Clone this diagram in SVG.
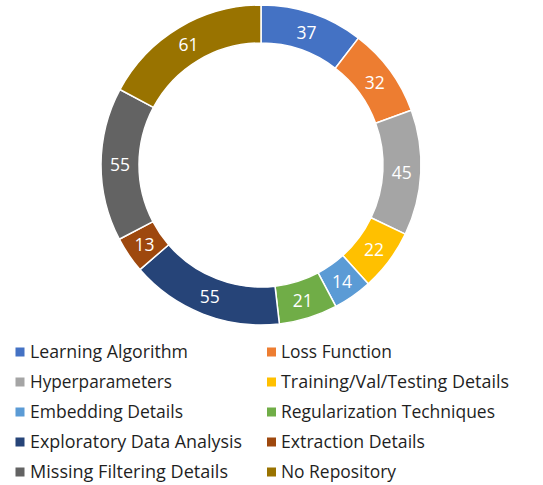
<svg xmlns="http://www.w3.org/2000/svg" width="543" height="485" viewBox="0 0 543 485">
<style>
.seg{stroke:#fff;stroke-width:1.5;stroke-linejoin:round}
.lbl{font-family:"Open Sans","Liberation Sans",sans-serif;font-size:17.5px;fill:#fff;text-anchor:middle;dominant-baseline:central}
.lg{font-family:"Open Sans","Liberation Sans",sans-serif;font-size:17.5px;fill:#1f1f1f}
</style>
<rect width="543" height="485" fill="#fff"/>
<g id="ring">
<g id="s-learning"><path class="seg" fill="#4472C4" d="M261,5 A160,160 0 0 1 358.44,38.09 L335.30,68.23 A122,122 0 0 0 261,43 Z"/><text class="lbl" x="306.4" y="31.5">37</text></g>
<g id="s-loss"><path class="seg" fill="#ED7D31" d="M358.44,38.09 A160,160 0 0 1 411.32,110.21 L375.62,123.22 A122,122 0 0 0 335.30,68.23 Z"/><text class="lbl" x="374.7" y="81.6">32</text></g>
<g id="s-hyper"><path class="seg" fill="#A5A5A5" d="M411.32,110.21 A160,160 0 0 1 405.29,234.15 L371.02,217.73 A122,122 0 0 0 375.62,123.22 Z"/><text class="lbl" x="401.8" y="171.9">45</text></g>
<g id="s-training"><path class="seg" fill="#FFC000" d="M405.29,234.15 A160,160 0 0 1 368.23,283.74 L342.76,255.54 A122,122 0 0 0 371.02,217.73 Z"/><text class="lbl" x="374" y="249.4">22</text></g>
<g id="s-embedding"><path class="seg" fill="#5B9BD5" d="M368.23,283.74 A160,160 0 0 1 335.85,306.41 L318.07,272.82 A122,122 0 0 0 342.76,255.54 Z"/><text class="lbl" x="341.9" y="280.5">14</text></g>
<g id="s-regularization"><path class="seg" fill="#70AD47" d="M335.85,306.41 A160,160 0 0 1 279.37,323.94 L275.01,286.19 A122,122 0 0 0 318.07,272.82 Z"/><text class="lbl" x="302.8" y="299.7">21</text></g>
<g id="s-eda"><path class="seg" fill="#264478" d="M279.37,323.94 A160,160 0 0 1 139.91,269.59 L168.67,244.75 A122,122 0 0 0 275.01,286.19 Z"/><text class="lbl" x="209.8" y="296.4">55</text></g>
<g id="s-extraction"><path class="seg" fill="#9E480E" d="M139.91,269.59 A160,160 0 0 1 119.26,239.22 L152.92,221.60 A122,122 0 0 0 168.67,244.75 Z"/><text class="lbl" x="144.4" y="244.3">13</text></g>
<g id="s-missing"><path class="seg" fill="#636363" d="M119.26,239.22 A160,160 0 0 1 119.93,89.53 L153.43,107.45 A122,122 0 0 0 152.92,221.60 Z"/><text class="lbl" x="120" y="164.4">55</text></g>
<g id="s-norepo"><path class="seg" fill="#997300" d="M119.93,89.53 A160,160 0 0 1 261,5 L261,43 A122,122 0 0 0 153.43,107.45 Z"/><text class="lbl" x="188.5" y="44">61</text></g>
</g>
<g id="legend">
<g id="lg1"><rect x="15.5" y="347.5" width="9" height="9" fill="#4472C4"/><text class="lg" x="30" y="358" textLength="158" lengthAdjust="spacingAndGlyphs">Learning Algorithm</text></g>
<g id="lg2"><rect x="267" y="347.5" width="9" height="9" fill="#ED7D31"/><text class="lg" x="281" y="358" textLength="111" lengthAdjust="spacingAndGlyphs">Loss Function</text></g>
<g id="lg3"><rect x="15.5" y="377.5" width="9" height="9" fill="#A5A5A5"/><text class="lg" x="30" y="388" textLength="142" lengthAdjust="spacingAndGlyphs">Hyperparameters</text></g>
<g id="lg4"><rect x="267" y="377.5" width="9" height="9" fill="#FFC000"/><text class="lg" x="281" y="388" textLength="228" lengthAdjust="spacingAndGlyphs">Training/Val/Testing Details</text></g>
<g id="lg5"><rect x="15.5" y="407.5" width="9" height="9" fill="#5B9BD5"/><text class="lg" x="30" y="418" textLength="153" lengthAdjust="spacingAndGlyphs">Embedding Details</text></g>
<g id="lg6"><rect x="267" y="407.5" width="9" height="9" fill="#70AD47"/><text class="lg" x="281" y="418" textLength="214" lengthAdjust="spacingAndGlyphs">Regularization Techniques</text></g>
<g id="lg7"><rect x="15.5" y="437.5" width="9" height="9" fill="#264478"/><text class="lg" x="30" y="448" textLength="212" lengthAdjust="spacingAndGlyphs">Exploratory Data Analysis</text></g>
<g id="lg8"><rect x="267" y="437.5" width="9" height="9" fill="#9E480E"/><text class="lg" x="281" y="448" textLength="144" lengthAdjust="spacingAndGlyphs">Extraction Details</text></g>
<g id="lg9"><rect x="15.5" y="467.5" width="9" height="9" fill="#636363"/><text class="lg" x="30" y="478" textLength="198" lengthAdjust="spacingAndGlyphs">Missing Filtering Details</text></g>
<g id="lg10"><rect x="267" y="467.5" width="9" height="9" fill="#997300"/><text class="lg" x="281" y="478" textLength="115" lengthAdjust="spacingAndGlyphs">No Repository</text></g>
</g>
</svg>
